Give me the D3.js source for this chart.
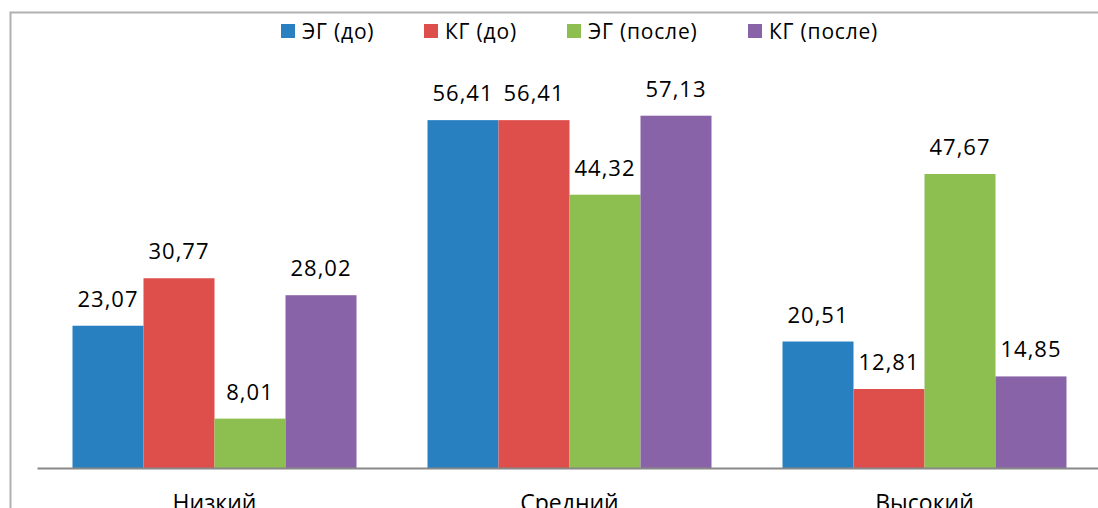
<!DOCTYPE html>
<html>
<head>
<meta charset="utf-8">
<script src="https://cdn.jsdelivr.net/npm/d3@7"></script>
<style>
  body { margin: 0; background: #fff; overflow: hidden; }
  text { font-family: "Open Sans", sans-serif; fill: #000; }
</style>
</head>
<body>
<div id="chart"></div>
<script>
// data
const categories = ["Низкий", "Средний", "Высокий"];
const seriesNames = ["ЭГ (до)", "КГ (до)", "ЭГ (после)", "КГ (после)"];
const egBefore = [23.07, 56.41, 20.51];
const kgBefore = [30.77, 56.41, 12.81];
const egAfter = [8.01, 44.32, 47.67];
const kgAfter = [28.02, 57.13, 14.85];
const colors = ["#2880c1", "#de4f4c", "#8dbe50", "#8963a8"];

const allSeries = [egBefore, kgBefore, egAfter, kgAfter];

const W = 1098, H = 508;
const margin = {top: 98, right: -4, bottom: 40, left: 37};
const width = W - margin.left - margin.right,
      height = H - margin.top - margin.bottom;

const svg = d3.select("#chart").append("svg")
    .attr("width", W)
    .attr("height", H);

// chart border (gray frame)
svg.append("path")
    .attr("d", "M10.5,508 L10.5,12.5 L1098,12.5")
    .attr("fill", "none")
    .attr("stroke", "#b0b0b0")
    .attr("stroke-width", 2);

const g = svg.append("g")
    .attr("transform", `translate(${margin.left},${margin.top})`);

const x0 = d3.scaleBand()
    .domain(categories)
    .range([0, width])
    .paddingInner(0.2)
    .paddingOuter(0.1);

const x1 = d3.scaleBand()
    .domain(seriesNames)
    .range([0, x0.bandwidth()]);

const y = d3.scaleLinear()
    .domain([0, 60])
    .range([height, 0]);

const rows = categories.map((c, i) => ({
    cat: c,
    vals: seriesNames.map((s, j) => ({key: s, value: allSeries[j][i], color: colors[j]}))
}));

const grp = g.selectAll(".grp")
    .data(rows)
    .enter().append("g")
    .attr("transform", d => `translate(${x0(d.cat)},0)`);

grp.selectAll("rect")
    .data(d => d.vals)
    .enter().append("rect")
    .attr("x", d => x1(d.key))
    .attr("y", d => y(d.value))
    .attr("width", x1.bandwidth())
    .attr("height", d => height - y(d.value))
    .attr("fill", d => d.color);

grp.selectAll(".lbl")
    .data(d => d.vals)
    .enter().append("text")
    .attr("class", "lbl")
    .attr("x", d => x1(d.key) + x1.bandwidth() / 2)
    .attr("y", d => y(d.value) - 19)
    .attr("text-anchor", "middle")
    .style("font-size", "22px")
    .style("letter-spacing", "1px")
    .text(d => String(d.value.toFixed(2)).replace(".", ","));

// x axis
const xAxis = g.append("g")
    .attr("transform", `translate(0,${height})`)
    .call(d3.axisBottom(x0).tickSize(0).tickPadding(27));
xAxis.select(".domain").attr("stroke", "#888").attr("stroke-width", 2);
xAxis.selectAll("text")
    .style("font-size", "23px")
    .style("font-family", "'Open Sans', sans-serif")
    .attr("fill", "#000");

// legend
const legendX = [281, 424, 567, 748];
const legend = svg.append("g");
const items = legend.selectAll("g")
    .data(seriesNames)
    .enter().append("g")
    .attr("transform", (d, i) => `translate(${legendX[i]},24)`);
items.append("rect")
    .attr("width", 14)
    .attr("height", 14)
    .attr("fill", (d, i) => colors[i]);
items.append("text")
    .attr("x", 21)
    .attr("y", 15)
    .style("font-size", "21px")
    .style("letter-spacing", "0.8px")
    .text(d => d);
</script>
</body>
</html>
